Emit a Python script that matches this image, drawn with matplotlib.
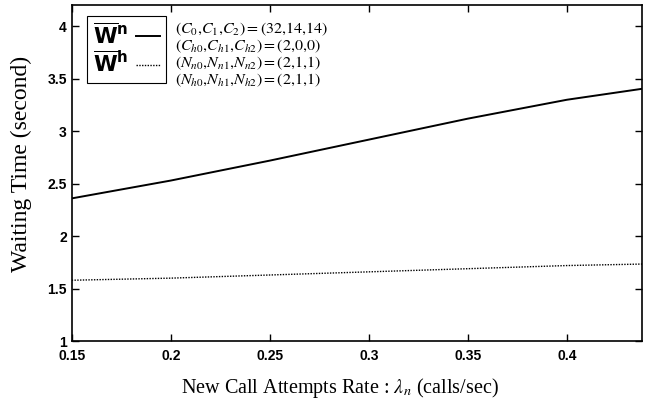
import matplotlib.pyplot as plt
import numpy as np

plt.rcParams['mathtext.fontset'] = 'stix'

# new call attempts rate (calls/sec)
rate = [0.15, 0.20, 0.25, 0.30, 0.35, 0.40, 0.44]
# waiting time (second)
wait_new = [2.36, 2.53, 2.72, 2.92, 3.12, 3.30, 3.41]
wait_hand = [1.58, 1.60, 1.63, 1.66, 1.69, 1.72, 1.735]

xticks = [0.15, 0.2, 0.25, 0.3, 0.35, 0.4]
yticks = [1, 1.5, 2, 2.5, 3, 3.5, 4]
params = [
    r'$\mathit{(C_0{,}C_1{,}C_2)=(32{,}14{,}14)}$',
    r'$\mathit{(C_{h0}{,}C_{h1}{,}C_{h2})=(2{,}0{,}0)}$',
    r'$\mathit{(N_{n0}{,}N_{n1}{,}N_{n2})=(2{,}1{,}1)}$',
    r'$\mathit{(N_{h0}{,}N_{h1}{,}N_{h2})=(2{,}1{,}1)}$',
]

fig = plt.figure(figsize=(6.46, 4.09), dpi=100)
ax = fig.add_axes([0.111, 0.166, 0.883, 0.821])

ax.plot(rate, wait_new, color='black', lw=1.4, label=r'$\mathbf{\overline{W}^{n}}$')
ax.plot(rate, wait_hand, color='black', lw=1.0, ls=(0, (1, 1)), label=r'$\mathbf{\overline{W}^{h}}$')

ax.set_xlim(0.15, 0.438)
ax.set_ylim(1, 4.2)
ax.set_xticks(xticks)
ax.set_xticklabels([f'{t:g}' for t in xticks])
ax.set_yticks(yticks)
ax.set_yticklabels([f'{t:g}' for t in yticks])
ax.tick_params(direction='in', top=True, right=True, length=5, width=1)
ax.tick_params(axis='x', pad=6)
for lab in ax.get_xticklabels() + ax.get_yticklabels():
    lab.set_fontfamily('Liberation Sans')
    lab.set_fontweight('bold')
    lab.set_fontsize(10)
for s in ax.spines.values():
    s.set_linewidth(1.2)

ax.set_xlabel(r'New Call Attempts Rate : $\lambda_{\mathit{n}}$ (calls/sec)',
              family='Liberation Serif', fontsize=14.5)
ax.xaxis.set_label_coords(0.47, -0.105)
ax.set_ylabel('Waiting Time (second)', family='Liberation Serif', fontsize=17)
ax.yaxis.set_label_coords(-0.07, 0.527)

leg = ax.legend(loc='upper left', bbox_to_anchor=(0.026, 0.968), borderaxespad=0,
                markerfirst=False, fancybox=False, edgecolor='black',
                prop=dict(size=15.5, math_fontfamily='dejavusans'),
                handlelength=1.1, handletextpad=0.35, labelspacing=0.15,
                borderpad=0.3, framealpha=1)
leg.get_frame().set_linewidth(0.8)

for i, txt in enumerate(params):
    ax.text(0.181, 0.929 - i * 0.051, txt, transform=ax.transAxes,
            fontsize=11.5, va='center', ha='left')

fig.savefig('out.png', dpi=100)
